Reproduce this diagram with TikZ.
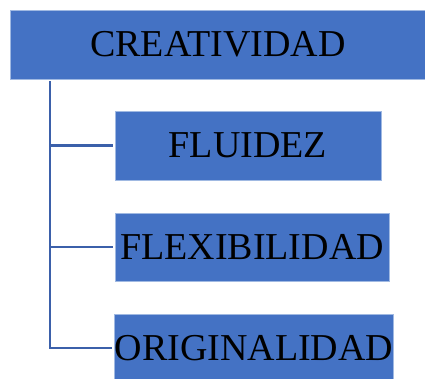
\documentclass[tikz,border=0pt]{standalone}
\usepackage{fontspec}
\setmainfont{Liberation Serif}
\usetikzlibrary{calc}
\definecolor{boxblue}{RGB}{68,114,196}
\definecolor{boxedge}{RGB}{160,185,226}
\definecolor{linkblue}{RGB}{59,96,170}
\tikzset{
  box/.style={fill=boxblue, draw=boxedge, line width=0.8pt, inner sep=0pt,
    font=\fontsize{38}{40}\selectfont, text=black},
  conn/.style={draw=linkblue, line width=2.6pt, shorten >=2pt}
}
\begin{document}
\begin{tikzpicture}[x=1pt,y=1pt]
\useasboundingbox (0,0) rectangle (425,-379);
\node[box, minimum width=416pt, minimum height=69pt] (top) at (218,-44.5) {CREATIVIDAD};
\node[box, minimum width=266pt, minimum height=69pt] (c1) at (248,-145.5) {FLUIDEZ};
\node[box, minimum width=274pt, minimum height=68pt] (c2) at (252,-247) {FLEXIBILIDAD};
\node[box, minimum width=278pt, minimum height=68pt] (c3) at (254,-348) {ORIGINALIDAD};
\coordinate (trunk) at ($(top.south west)+(40.5pt,-2pt)$);
\draw[conn] (trunk) |- (c1.west);
\draw[conn] (trunk) |- (c2.west);
\draw[conn] (trunk) |- (c3.west);
\end{tikzpicture}
\end{document}
